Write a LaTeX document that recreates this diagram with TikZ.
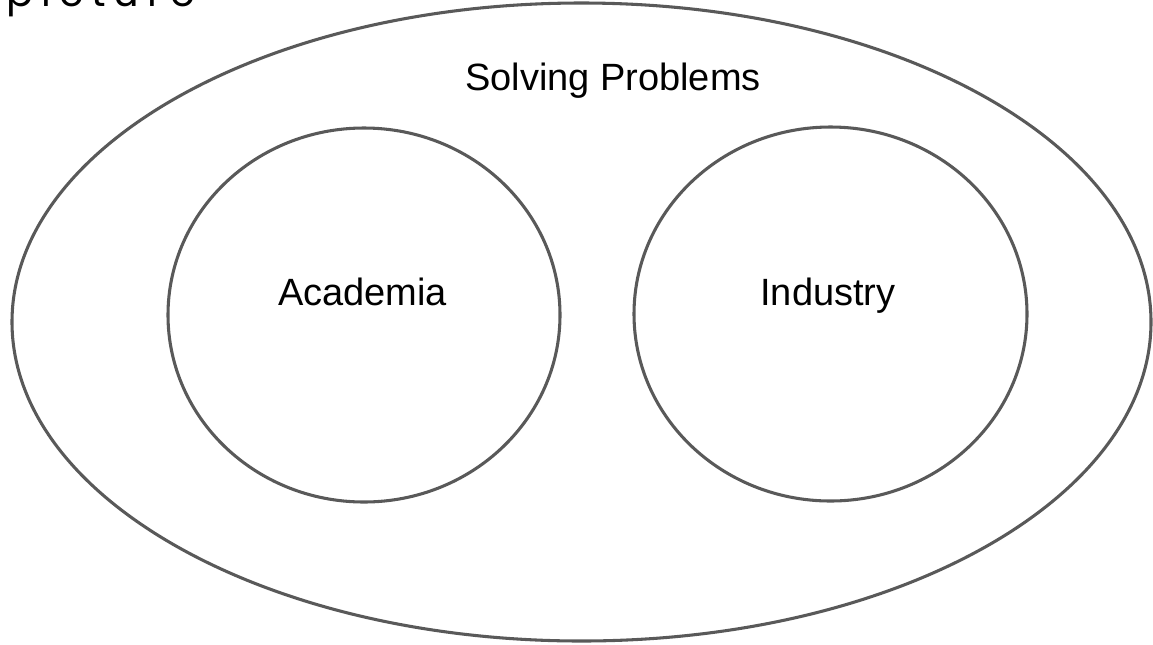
\documentclass[tikz,border=0pt]{standalone}
\usepackage{fontspec}
\setmainfont{Liberation Sans}
\newfontfamily\titlefont[LetterSpace=20]{Poppins}
\usetikzlibrary{shapes.geometric}
\definecolor{linegray}{HTML}{595959}
\tikzset{
  blob/.style={ellipse, draw=linegray, line width=2.3pt, inner sep=0pt},
  lbl/.style={anchor=base, inner sep=0pt, font=\fontsize{28.5pt}{34pt}\selectfont, text=black}
}
\begin{document}
\begin{tikzpicture}[x=0.75pt,y=-0.75pt]
\useasboundingbox (0,0) rectangle (1153,644);
\node[blob, minimum width=1139*0.75pt, minimum height=638*0.75pt] (outer) at (581.5,322) {};
\node[blob, minimum width=392*0.75pt, minimum height=374*0.75pt] (acad) at (364,315) {};
\node[blob, minimum width=393*0.75pt, minimum height=374*0.75pt] (ind) at (830.5,314) {};
\node[lbl] (tsolve) at (613,90) {Solving Problems};
\node[lbl] (tacad) at (362.5,305) {Academia};
\node[lbl] (tind) at (828,305) {Industry};
\node[anchor=base west, inner sep=0pt, font=\titlefont\fontsize{30pt}{36pt}\selectfont, text=black] (ttitle) at (6,6) {picture};
\end{tikzpicture}
\end{document}
